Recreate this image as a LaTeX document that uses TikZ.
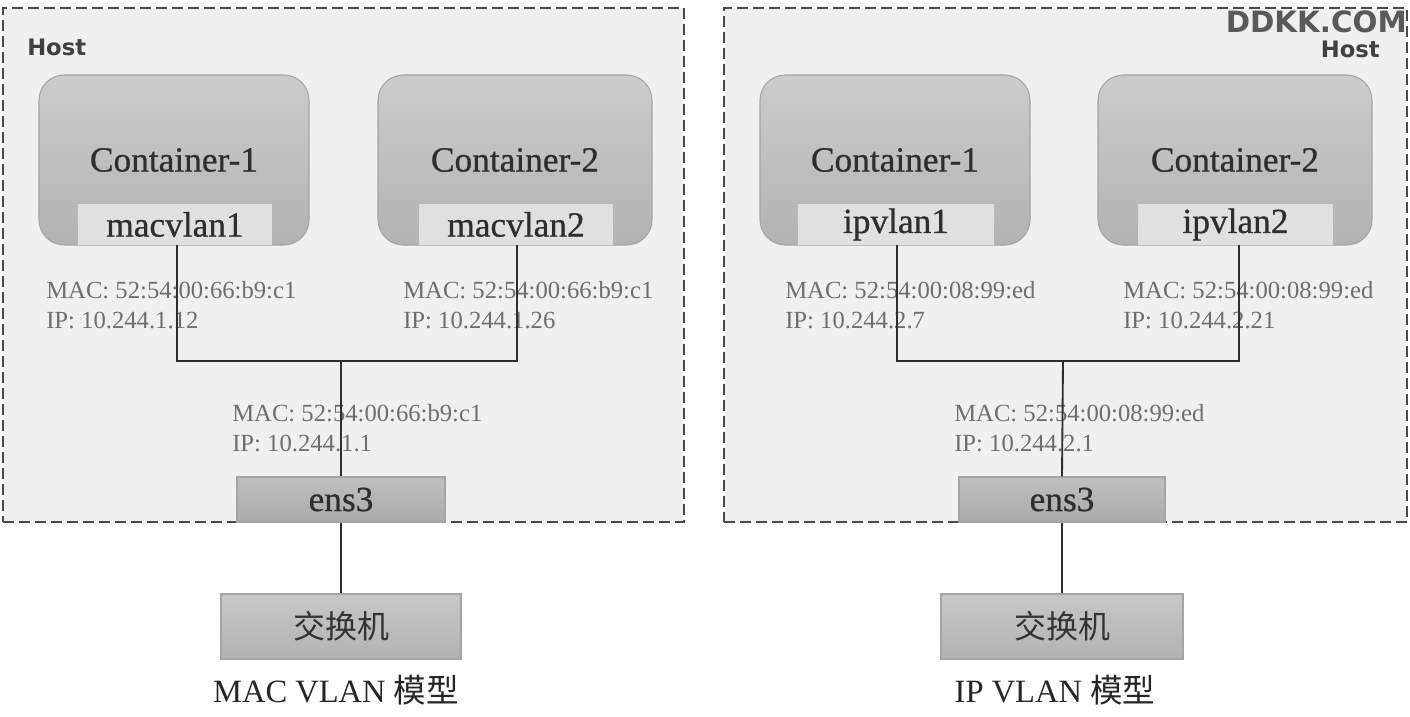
\documentclass[tikz,border=0pt]{standalone}
\usepackage{fontspec}
\setmainfont{Liberation Serif}
\newfontfamily\heavyserif[FakeBold=0.7]{Liberation Serif}
\newfontfamily\hostfont{DejaVu Sans}
\newfontfamily\cjkfont{Noto Sans CJK SC}
\usetikzlibrary{fit}
\definecolor{hostbg}{HTML}{F0F0F0}
\definecolor{hostln}{HTML}{4A4A4A}
\definecolor{boxln}{HTML}{A4A4A4}
\definecolor{wire}{HTML}{2E2E2E}
\definecolor{addr}{HTML}{6E6E6E}
\tikzset{
  hostbox/.style={draw=hostln, fill=hostbg, line width=1.1pt, dash pattern=on 8pt off 4pt, inner sep=0pt},
  contbox/.style={draw=boxln, line width=0.8pt, rounded corners=19pt, top color=black!20, bottom color=black!30, inner sep=0pt},
  ifbox/.style={draw=none, fill=black!12, inner sep=0pt},
  ensbox/.style={draw=boxln, line width=0.8pt, top color=black!25, bottom color=black!33, inner sep=0pt},
  swbox/.style={draw=boxln, line width=0.8pt, top color=black!22, bottom color=black!30, inner sep=0pt},
  bigtxt/.style={inner sep=0pt, text=black!82, font=\fontsize{26.5}{30}\heavyserif},
  swtxt/.style={inner sep=0pt, text=black!80, font=\fontsize{24}{28}\cjkfont},
  addrlbl/.style={anchor=west, align=left, inner sep=0pt, text=addr, font=\fontsize{18.5}{22.5}\selectfont},
  hostlbl/.style={inner sep=0pt, text=black!75, font=\fontsize{17}{19}\hostfont\bfseries},
  caption/.style={inner sep=0pt, text=black!85, font=\fontsize{24.4}{28}\selectfont},
  link/.style={draw=wire, line width=1.4pt},
}
\begin{document}
\begin{tikzpicture}[x=0.75pt, y=-0.75pt]
\useasboundingbox (0,0) rectangle (1410,717);
\fill[white] (0,0) rectangle (1410,717);

% ---------------- left: MAC VLAN ----------------
\node[hostbox, fit={(3,8) (684,522)}] (hostL) {};
\node[hostlbl, anchor=west] (hostLlbl) at (27,47) {Host};
\node[contbox, fit={(39,75) (309,245)}] (c1L) {};
\node[bigtxt] (c1Lt) at (174,160) {Container-1};
\node[ifbox, fit={(78,204) (272,245)}] (mv1) {};
\node[bigtxt] at (mv1.center) (mv1t) {macvlan1};
\node[contbox, fit={(378,75) (652,245)}] (c2L) {};
\node[bigtxt] (c2Lt) at (515,160) {Container-2};
\node[ifbox, fit={(419,204) (613,245)}] (mv2) {};
\node[bigtxt] at (mv2.center) (mv2t) {macvlan2};

\node[addrlbl] (a1L) at (46,305) {MAC: 52:54:00:66:b9:c1\\IP: 10.244.1.12};
\node[addrlbl] (a2L) at (403,305) {MAC: 52:54:00:66:b9:c1\\IP: 10.244.1.26};
\node[addrlbl] (a3L) at (232,428) {MAC: 52:54:00:66:b9:c1\\IP: 10.244.1.1};

\node[ensbox, fit={(237,477) (445,522)}] (ensL) {};
\node[bigtxt] at (ensL.center) (ensLt) {ens3};
\node[swbox, fit={(221,594) (461,659)}] (swL) {};
\node[swtxt] at (swL.center) (swLt) {交换机};
\node[caption] (capL) at (336,690) {MAC VLAN {\cjkfont 模型}};

\coordinate (jL) at (341,361);
\draw[link] (mv1.south -| 177,0) |- (jL) -| (mv2.south -| 517,0);
\draw[link] (jL) -- (ensL.north);
\draw[link] (ensL.south) -- (swL.north);

% ---------------- right: IP VLAN ----------------
\node[hostbox, fit={(724,8) (1407,522)}] (hostR) {};
\node[hostlbl, anchor=east] (hostRlbl) at (1380,49) {Host};
\node[contbox, fit={(760,75) (1030,245)}] (c1R) {};
\node[bigtxt] (c1Rt) at (895,160) {Container-1};
\node[ifbox, fit={(798,204) (994,245)}] (ip1) {};
\node[bigtxt] at (ip1.center) (ip1t) {ipvlan1};
\node[contbox, fit={(1098,75) (1372,245)}] (c2R) {};
\node[bigtxt] (c2Rt) at (1235,160) {Container-2};
\node[ifbox, fit={(1138,204) (1333,245)}] (ip2) {};
\node[bigtxt] at (ip2.center) (ip2t) {ipvlan2};

\node[addrlbl] (a1R) at (785,305) {MAC: 52:54:00:08:99:ed\\IP: 10.244.2.7};
\node[addrlbl] (a2R) at (1123,305) {MAC: 52:54:00:08:99:ed\\IP: 10.244.2.21};
\node[addrlbl] (a3R) at (954,428) {MAC: 52:54:00:08:99:ed\\IP: 10.244.2.1};

\node[ensbox, fit={(959,477) (1165,522)}] (ensR) {};
\node[bigtxt] at (ensR.center) (ensRt) {ens3};
\node[swbox, fit={(941,594) (1183,659)}] (swR) {};
\node[swtxt] at (swR.center) (swRt) {交换机};
\node[caption] (capR) at (1055,690) {IP VLAN {\cjkfont 模型}};

\coordinate (jR) at (1063,361);
\draw[link] (ip1.south -| 897,0) |- (jR) -| (ip2.south -| 1239,0);
\draw[link] (jR) -- (ensR.north);
\draw[link] (ensR.south) -- (swR.north);

% watermark
\node[inner sep=0pt, text=black!65, font=\fontsize{22}{24}\hostfont\bfseries, anchor=east] (wm) at (1407,22) {DDKK.COM};
\end{tikzpicture}
\end{document}
